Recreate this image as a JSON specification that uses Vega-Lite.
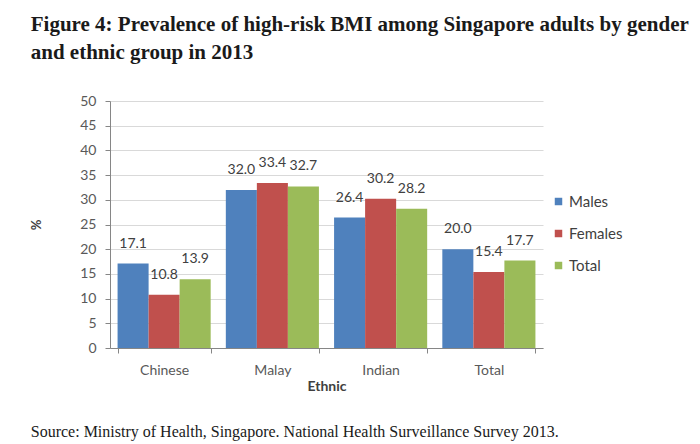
{
  "$schema": "https://vega.github.io/schema/vega-lite/v6.json",
  "padding": {"left": 30, "top": 14, "right": 5, "bottom": 5},
  "title": {
    "text": ["Figure 4: Prevalence of high-risk BMI among Singapore adults by gender", "and ethnic group in 2013"],
    "anchor": "start",
    "frame": "bounds",
    "font": "Liberation Serif",
    "fontSize": 21,
    "fontWeight": "bold",
    "color": "#1a1a1a",
    "lineHeight": 28,
    "offset": 31
  },
  "vconcat": [
    {
      "width": 433,
      "height": 247,
      "title": {
        "text": "Source: Ministry of Health, Singapore. National Health Surveillance Survey 2013.",
        "orient": "bottom",
        "anchor": "start",
        "frame": "bounds",
        "font": "Liberation Serif",
        "fontSize": 16,
        "fontWeight": "normal",
        "color": "#1a1a1a",
        "offset": 31
      },
      "data": {
        "values": [
          {"ethnic": "Chinese", "gender": "Males", "pct": 17.1},
          {"ethnic": "Chinese", "gender": "Females", "pct": 10.8},
          {"ethnic": "Chinese", "gender": "Total", "pct": 13.9},
          {"ethnic": "Malay", "gender": "Males", "pct": 32.0},
          {"ethnic": "Malay", "gender": "Females", "pct": 33.4},
          {"ethnic": "Malay", "gender": "Total", "pct": 32.7},
          {"ethnic": "Indian", "gender": "Males", "pct": 26.4},
          {"ethnic": "Indian", "gender": "Females", "pct": 30.2},
          {"ethnic": "Indian", "gender": "Total", "pct": 28.2},
          {"ethnic": "Total", "gender": "Males", "pct": 20.0},
          {"ethnic": "Total", "gender": "Females", "pct": 15.4},
          {"ethnic": "Total", "gender": "Total", "pct": 17.7}
        ]
      },
      "encoding": {
        "x": {
          "field": "ethnic",
          "type": "nominal",
          "sort": ["Chinese", "Malay", "Indian", "Total"],
          "scale": {"paddingInner": 0.14, "paddingOuter": 0.07},
          "axis": {
            "title": "Ethnic",
            "labelAngle": 0,
            "ticks": true,
            "tickBand": "extent",
            "tickSize": 5,
            "labelPadding": 10,
            "titlePadding": 2,
            "titleFontWeight": "bold",
            "titleFontSize": 14,
            "titleColor": "#404040",
            "grid": false
          }
        },
        "xOffset": {"field": "gender", "type": "nominal", "sort": ["Males", "Females", "Total"]},
        "y": {
          "field": "pct",
          "type": "quantitative",
          "scale": {"domain": [0, 50]},
          "axis": {
            "title": "%",
            "values": [0, 5, 10, 15, 20, 25, 30, 35, 40, 45, 50],
            "tickSize": 5,
            "labelPadding": 9,
            "titlePadding": 36,
            "titleFontSize": 13,
            "titleColor": "#404040",
            "titleFontWeight": "bold"
          }
        }
      },
      "layer": [
        {
          "mark": {"type": "bar"},
          "encoding": {
            "color": {
              "field": "gender",
              "type": "nominal",
              "sort": ["Males", "Females", "Total"],
              "scale": {"domain": ["Males", "Females", "Total"], "range": ["#4f81bd", "#c0504d", "#9bbb59"]},
              "legend": {
                "title": null,
                "orient": "none",
                "legendX": 441,
                "legendY": 93,
                "symbolType": "square",
                "symbolSize": 56,
                "symbolStrokeWidth": 0,
                "labelFontSize": 15,
                "labelFont": "Lato",
                "labelColor": "#404040",
                "rowPadding": 16,
                "labelOffset": 3
              }
            }
          }
        },
        {
          "mark": {"type": "text", "baseline": "bottom", "dy": -13, "font": "Lato", "fontSize": 14, "color": "#404040"},
          "encoding": {
            "text": {"field": "pct", "type": "quantitative", "format": ".1f"}
          }
        }
      ]
    }
  ],
  "config": {
    "view": {"stroke": null},
    "axis": {
      "labelFont": "Lato",
      "labelFontSize": 14,
      "labelColor": "#595959",
      "titleFont": "Lato",
      "domainColor": "#868686",
      "tickColor": "#868686",
      "gridColor": "#d9d9d9"
    }
  }
}
